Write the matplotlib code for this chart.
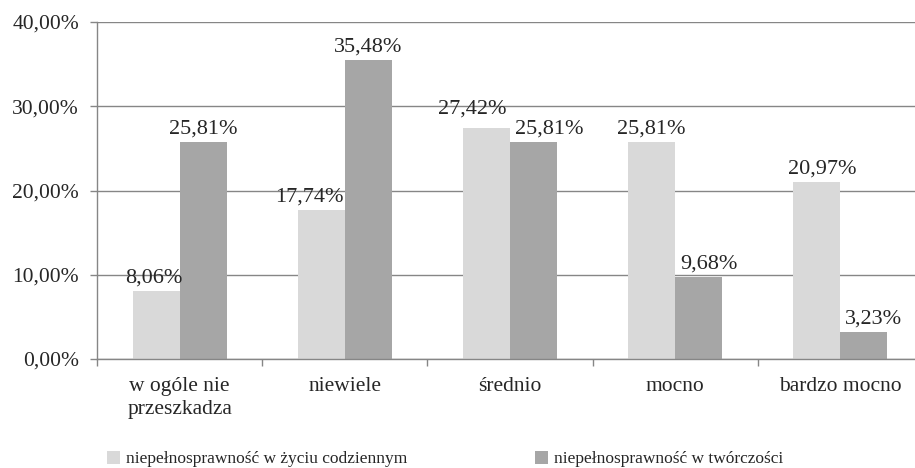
import matplotlib
matplotlib.use('Agg')
import matplotlib.pyplot as plt
import matplotlib.ticker as ticker
from matplotlib.patches import Patch
import numpy as np

categories = ['w ogóle nie\nprzeszkadza', 'niewiele', 'średnio', 'mocno', 'bardzo mocno']
series_names = ['niepełnosprawność w życiu codziennym', 'niepełnosprawność w twórczości']
daily = [8.06, 17.74, 27.42, 25.81, 20.97]
creative = [25.81, 35.48, 25.81, 9.68, 3.23]
colors = ['#d9d9d9', '#a6a6a6']

# przesunięcia etykiet (px), żeby się nie nachodziły
daily_shift = [(-2, 0), (-12, 0), (-14, 6), (0, 0), (5, 0)]
creative_shift = [(0, 0), (0, 0), (16, 0), (10, 0), (10, 0)]

plt.rcParams['font.family'] = ['Liberation Serif', 'DejaVu Serif']
text_color = '#262626'
line_color = '#868686'

W, H = 915, 468
fig = plt.figure(figsize=(W / 100, H / 100), dpi=100)
# osie wychodzą nieco poza prawą krawędź rysunku
ax = fig.add_axes([97 / W, 1 - 359 / H, 826 / W, 337 / H])

x = np.arange(len(categories))
bw = 0.285
bars1 = ax.bar(x - bw / 2, daily, bw, color=colors[0], zorder=2)
bars2 = ax.bar(x + bw / 2, creative, bw, color=colors[1], zorder=2)

def fmt(v):
    return f'{v:.2f}'.replace('.', ',') + '%'

px = 72 / 100
for bars, vals, shifts in ((bars1, daily, daily_shift), (bars2, creative, creative_shift)):
    for b, v, (dx, dy) in zip(bars, vals, shifts):
        ax.annotate(fmt(v), (b.get_x() + b.get_width() / 2, v),
                    xytext=(dx * px, 2.5 + dy * px),
                    textcoords='offset points', ha='center', va='bottom',
                    fontsize=16, color=text_color, zorder=3)

ax.set_xlim(-0.5, len(categories) - 0.5)
ax.set_ylim(0, 40)
ax.yaxis.set_major_locator(ticker.MultipleLocator(10))
ax.yaxis.set_major_formatter(ticker.FuncFormatter(lambda v, p: f'{v:.2f}'.replace('.', ',') + '%'))
ax.grid(axis='y', color=line_color, linewidth=1.0, zorder=0)
ax.set_axisbelow(True)

ax.set_xticks(x)
ax.set_xticklabels(categories, linespacing=1.3)
ax.set_xticks(np.arange(len(categories) + 1) - 0.5, minor=True)
ax.tick_params(axis='x', which='major', length=0, pad=13, labelsize=15.5, labelcolor=text_color)
ax.tick_params(axis='x', which='minor', length=5, width=1, color=line_color, direction='out')
ax.tick_params(axis='y', length=5, width=1, color=line_color, pad=8, labelsize=15.5, labelcolor=text_color)

for s in ['top', 'right']:
    ax.spines[s].set_visible(False)
for s in ['left', 'bottom']:
    ax.spines[s].set_color(line_color)
    ax.spines[s].set_linewidth(1.0)

handles = [Patch(facecolor=c, edgecolor='none') for c in colors]
fig.legend(handles, series_names, loc='center left', bbox_to_anchor=(107 / W, 1 - 459 / H),
           ncol=2, frameon=False, fontsize=12.5, labelcolor=text_color,
           handlelength=0.75, handleheight=0.75, handletextpad=0.35, columnspacing=7.35,
           borderaxespad=0, borderpad=0)

fig.savefig('out.png', dpi=100)
